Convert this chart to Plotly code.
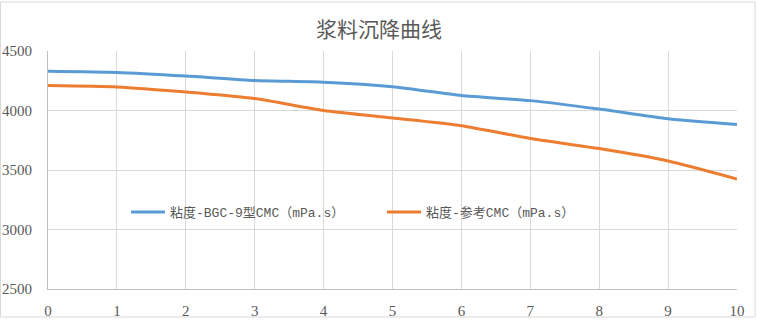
import plotly.graph_objects as go

x_vals = [0, 1, 2, 3, 4, 5, 6, 7, 8, 9, 10]
bgc9 = [4330, 4320, 4290, 4252, 4238, 4200, 4126, 4083, 4012, 3930, 3882]
ref = [4210, 4198, 4155, 4100, 4000, 3937, 3872, 3765, 3680, 3576, 3425]
names = ["粘度-BGC-9型CMC（mPa.s）", "粘度-参考CMC（mPa.s）"]
title = "浆料沉降曲线"
y_ticks = [2500, 3000, 3500, 4000, 4500]

L, R, T, B = 48, 21, 51, 33
W, H = 758, 322
pw, ph = W - L - R, H - T - B

def px(xp):
    return (xp - L) / pw

def py(yp):
    return (H - B - yp) / ph

fig = go.Figure()
fig.add_trace(go.Scatter(x=x_vals, y=bgc9, mode="lines", name=names[0],
                         line=dict(color="#5b9bd5", width=3, shape="spline", smoothing=0.6)))
fig.add_trace(go.Scatter(x=x_vals, y=ref, mode="lines", name=names[1],
                         line=dict(color="#ed7d31", width=3, shape="spline", smoothing=0.6)))

fig.update_layout(
    width=W, height=H,
    margin=dict(l=L, r=R, t=T, b=B, autoexpand=False),
    paper_bgcolor="white", plot_bgcolor="white",
    title=dict(text=title, x=0.5, xref="container", xanchor="center",
               y=1 - 30 / H, yref="container", yanchor="middle",
               font=dict(family="Noto Sans CJK SC", size=21, color="#595959")),
    showlegend=True,
    legend=dict(orientation="h", x=px(126), y=py(212), xanchor="left", yanchor="middle",
                bgcolor="rgba(0,0,0,0)", entrywidth=207, entrywidthmode="pixels",
                font=dict(family="Liberation Mono, Noto Sans CJK SC", size=13, color="#595959"),
                itemwidth=34, tracegroupgap=0),
    xaxis=dict(range=[0, 10], tickvals=x_vals, ticktext=[str(v) for v in x_vals],
               showgrid=True, gridcolor="#d9d9d9", gridwidth=1, automargin=False,
               showline=True, linecolor="#bfbfbf", linewidth=1,
               zeroline=False, ticks="", ticklabelstandoff=8,
               tickfont=dict(family="'Liberation Serif', serif", size=15, color="#595959")),
    yaxis=dict(range=[2500, 4500], tickvals=y_ticks, ticktext=[str(v) for v in y_ticks],
               showgrid=True, gridcolor="#d9d9d9", gridwidth=1, automargin=False,
               showline=True, linecolor="#bfbfbf", linewidth=1,
               zeroline=False, ticks="", ticklabelstandoff=12,
               tickfont=dict(family="'Liberation Serif', serif", size=15, color="#595959")),
)

fig.add_shape(type="rect", xref="paper", yref="paper",
              x0=px(0.5), x1=px(755), y0=py(317), y1=py(2),
              line=dict(color="#d9d9d9", width=1), fillcolor="rgba(0,0,0,0)", layer="below")

fig.write_html("out.html")
